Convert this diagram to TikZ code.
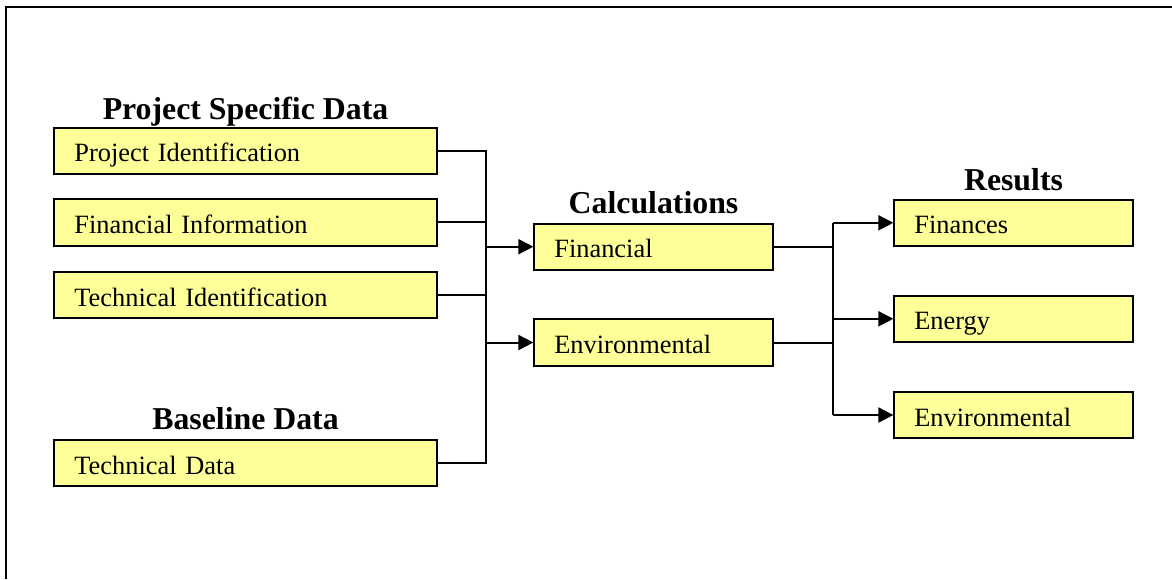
\documentclass[tikz,border=0pt]{standalone}
\usepackage{fontspec}
\setmainfont{Liberation Serif}
\usetikzlibrary{arrows.meta}
\definecolor{boxyellow}{HTML}{FFFF99}
\begin{document}
\begin{tikzpicture}[x=1pt,y=-1pt,
  box/.style={draw=black, line width=2pt, fill=boxyellow, minimum height=46.3pt,
    inner xsep=20pt, inner ysep=0pt, text height=26pt, text depth=4pt, align=left,
    font=\fontsize{26.4}{30}\selectfont},
  widebox/.style={box, text width=342.7pt},
  narrowbox/.style={box, text width=198.7pt},
  title/.style={anchor=base, inner sep=0pt, font=\bfseries\fontsize{31.8}{36}\selectfont},
  conn/.style={draw=black, line width=2pt},
  arr/.style={-{Triangle[length=15pt,width=15pt]}}
]
\useasboundingbox (0,0) rectangle (1172,579);
\fill[white] (0,0) rectangle (1172,579);
% frame
\draw[line width=2pt] (5.7,579) -- (5.7,6.7) -- (1172,6.7);

% input boxes
\node[widebox] (pi) at (245.7,150.8) {Project Identification};
\node[widebox] (fi) at (245.7,222.4) {Financial Information};
\node[widebox] (ti) at (245.7,295.0) {Technical Identification};
\node[widebox] (td) at (245.7,463.0) {Technical Data};

% calculation boxes
\node[narrowbox] (cf) at (653.7,246.7) {Financial};
\node[narrowbox] (ce) at (653.7,342.5) {Environmental};

% result boxes
\node[narrowbox] (rf) at (1013.7,222.8) {Finances};
\node[narrowbox] (rn) at (1013.7,318.8) {Energy};
\node[narrowbox] (re) at (1013.7,415.0) {Environmental};

% titles
\node[title] (t1) at (245.5,119) {Project Specific Data};
\node[title] (t2) at (245.5,429) {Baseline Data};
\node[title] (t3) at (653.5,213) {Calculations};
\node[title] (t4) at (1013.5,190) {Results};

% connectors
\coordinate (lx) at (485.5,0);
\coordinate (rx) at (833.3,0);
\draw[conn] (pi.east) -- (pi.east -| lx) -- (td.east -| lx) -- (td.east);
\draw[conn] (fi.east) -- (fi.east -| lx);
\draw[conn] (ti.east) -- (ti.east -| lx);
\draw[conn,arr] (cf.west -| lx) -- (cf.west);
\draw[conn,arr] (ce.west -| lx) -- (ce.west);

\draw[conn] (cf.east) -- (cf.east -| rx);
\draw[conn] (ce.east) -- (ce.east -| rx);
\draw[conn] (rf.west -| rx) -- (re.west -| rx);
\draw[conn,arr] (rf.west -| rx) -- (rf.west);
\draw[conn,arr] (rn.west -| rx) -- (rn.west);
\draw[conn,arr] (re.west -| rx) -- (re.west);
\end{tikzpicture}
\end{document}
